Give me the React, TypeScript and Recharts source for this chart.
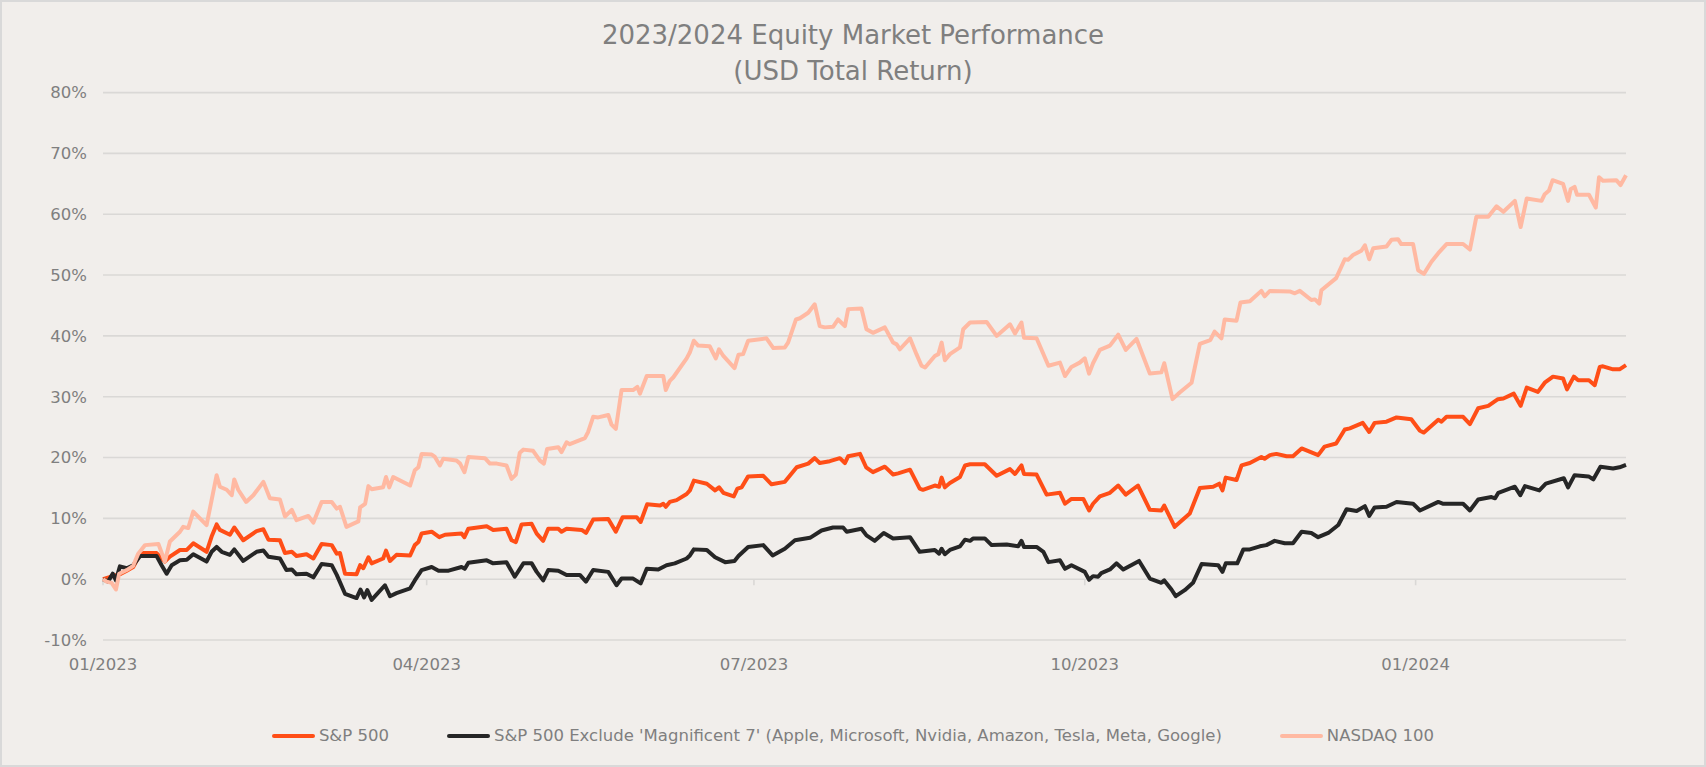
import React from "react";
import { LineChart, Line, XAxis, YAxis, CartesianGrid, ReferenceLine } from "recharts";

// x = days since 01/01/2023, y = total return in %
const tickDays = [0, 90, 181, 273, 365];
const tickLabels = ["01/2023", "04/2023", "07/2023", "10/2023", "01/2024"];
const yTicks = [-10, 0, 10, 20, 30, 40, 50, 60, 70, 80];

const spx: [number, number][] = [
    [0, 0], [3.8, 0.7], [5, 0.9], [6.6, 1.4], [8.4, 2], [10.3, 4.1], [11.2, 4.3], [14.9, 4.3], [17.2, 2.9], [18.6, 3.7],
    [21.4, 4.8], [23.3, 4.8], [25.1, 5.9], [28.8, 4.5], [30.2, 7], [31.6, 9], [32.5, 8.1], [35.3, 7.3], [36.5, 8.5], [39, 6.4],
    [42.7, 7.9], [44.6, 8.2], [46, 6.5], [49.2, 6.4], [50.6, 4.3], [52.5, 4.5], [53.8, 3.8], [56.6, 4.1], [58.5, 3.4], [60.8, 5.8],
    [63.6, 5.6], [65, 4.2], [65.9, 4.3], [67.3, 0.9], [70.5, 0.8], [71.5, 2.3], [72.4, 1.8], [73.8, 3.6], [74.7, 2.6], [77.9, 3.4],
    [78.7, 4.7], [79.8, 3], [81.6, 4], [85.4, 3.9], [86.7, 5.6], [87.7, 6.1], [88.6, 7.5], [91.4, 7.8], [93.5, 6.9], [95.1, 7.3],
    [99.7, 7.5], [100.5, 6.9], [101.6, 8.3], [106.7, 8.7], [108.5, 8.1], [112.2, 8.3], [113.6, 6.4], [114.8, 6.1], [116.4, 9], [119.2, 9.1],
    [120.6, 7.5], [122.4, 6.3], [123.8, 8.3], [126.6, 8.3], [127.5, 7.8], [128.9, 8.3], [133.1, 8.1], [134.3, 7.6], [136.3, 9.8], [140.5, 9.9],
    [142.6, 7.8], [144.5, 10.2], [148.4, 10.2], [149.5, 9.4], [151.3, 12.3], [154.9, 12.1], [155.8, 12.4], [156.5, 11.9], [157.6, 12.7], [159.5, 13],
    [162.3, 14], [163.2, 14.6], [164.3, 16.2], [167.9, 15.7], [170.2, 14.6], [171.3, 15.1], [172.5, 14.2], [175.4, 13.6], [176.4, 14.9], [177.6, 15.1],
    [179.4, 16.9], [183.6, 17], [185.9, 15.6], [189.6, 16], [192.9, 18.4], [196.1, 19], [197.9, 19.9], [199.3, 19.1], [202.1, 19.4], [204.9, 19.9],
    [206.3, 19.1], [207.2, 20.2], [210.5, 20.6], [212.2, 18.4], [214.1, 17.6], [217.4, 18.5], [219.7, 17.2], [221.1, 17.4], [224.4, 18], [227.1, 14.9],
    [228, 14.7], [231.3, 15.4], [232.5, 15.2], [233.2, 16.7], [234.1, 15.1], [235.5, 15.8], [238.3, 16.8], [239.7, 18.7], [241.1, 18.9], [245.2, 18.9],
    [248.5, 17], [252.2, 18.1], [253.6, 17.3], [255.4, 18.7], [256.1, 17.3], [259.6, 17.2], [262.4, 13.9], [266.1, 14.2], [267.5, 12.4], [269.3, 13.2],
    [272.6, 13.2], [274.2, 11.3], [275.3, 12.4], [277.2, 13.6], [280, 14.2], [282.3, 15.4], [284.4, 13.9], [287.8, 15.4], [291.1, 11.4], [294.3, 11.3],
    [295.1, 12.1], [298, 8.6], [302.2, 10.8], [305, 15], [308.7, 15.2], [310.4, 15.7], [311.3, 14.6], [312.2, 16.7], [315.2, 16.3], [316.6, 18.7],
    [318.9, 19.1], [322.1, 20.1], [323, 19.8], [324.5, 20.4], [326.3, 20.6], [329.1, 20.2], [330.9, 20.2], [333.3, 21.5], [337.9, 20.4], [339.7, 21.8],
    [342.9, 22.3], [345.3, 24.6], [346.7, 24.8], [350.3, 25.7], [352.1, 24.2], [353.6, 25.7], [356.9, 25.9], [359.7, 26.6], [363.8, 26.3], [366.2, 24.4],
    [367.3, 24.1], [371.3, 26.2], [372.2, 25.9], [373.6, 26.7], [378.2, 26.7], [380.1, 25.5], [382.4, 28.1], [385.2, 28.5], [387.9, 29.6], [389.4, 29.7],
    [392.3, 30.5], [394.2, 28.5], [395.9, 31.5], [399, 30.8], [400.9, 32.3], [403.2, 33.3], [406, 33], [407.1, 31.2], [409, 33.3], [410.2, 32.7],
    [413.2, 32.7], [414.8, 31.9], [416.2, 34.9], [417.1, 35], [419.9, 34.5], [421.7, 34.5], [423.5, 35.2],
];

const exMag7: [number, number][] = [
    [0, 0], [1.4, -0.4], [2.7, 0.9], [3.6, -0.2], [4.7, 2.1], [6.6, 1.8], [8.4, 2.3], [10.3, 3.8], [14.9, 3.8], [16.3, 2.3],
    [17.7, 0.9], [19.1, 2.3], [21.4, 3.1], [23.3, 3.2], [25.1, 4.1], [28.8, 2.9], [30.2, 4.5], [31.6, 5.3], [33, 4.5], [35.3, 4],
    [36.5, 4.9], [39, 3], [42.7, 4.5], [44.6, 4.7], [46, 3.7], [49.2, 3.4], [51, 1.5], [52.5, 1.6], [53.8, 0.8], [56.6, 0.9],
    [58.5, 0.3], [60.8, 2.5], [63.6, 2.3], [65, 0.7], [67.3, -2.4], [70.5, -3.1], [71.6, -1.7], [72.6, -3], [73.5, -1.8], [74.7, -3.4],
    [78.4, -1], [79.8, -2.8], [81.6, -2.3], [85.4, -1.5], [86.7, -0.2], [88.6, 1.5], [91.4, 2], [93.3, 1.4], [96.1, 1.4], [99.7, 2],
    [100.6, 1.7], [101.6, 2.7], [106.7, 3.1], [108.5, 2.6], [112.2, 2.8], [114.5, 0.4], [116.9, 2.6], [119.2, 2.6], [120.6, 1.2], [122.4, -0.2],
    [123.8, 1.5], [126.6, 1.4], [128.9, 0.7], [132.6, 0.7], [134.3, -0.4], [136.3, 1.5], [140.5, 1.2], [142.8, -1], [144.2, 0.1], [147.4, 0.1],
    [149.5, -0.7], [151.2, 1.7], [154.4, 1.6], [156.7, 2.3], [159, 2.6], [162.3, 3.4], [163.2, 3.9], [164.3, 4.9], [167.9, 4.8], [170.2, 3.6],
    [173, 2.8], [175.6, 3], [176.7, 3.8], [179.4, 5.3], [183.6, 5.6], [186.2, 3.9], [189.6, 5], [192.4, 6.4], [196.6, 6.8], [199.8, 8],
    [203, 8.5], [205.8, 8.5], [206.8, 7.8], [210.9, 8.3], [212.3, 7.2], [214.6, 6.3], [217.1, 7.6], [219.7, 6.7], [224.4, 6.9], [227.1, 4.5],
    [231.3, 4.8], [232.5, 4.2], [233.2, 5], [234.1, 4.1], [235.5, 4.8], [238.3, 5.4], [239.7, 6.5], [241.1, 6.3], [242, 6.7], [245.2, 6.7],
    [247.1, 5.6], [251.3, 5.7], [254.5, 5.4], [255.4, 6.3], [256.1, 5.3], [259.6, 5.3], [261.5, 4.5], [262.9, 2.8], [266.1, 3.1], [267.5, 1.7],
    [269.3, 2.3], [273, 1.2], [274.2, -0.1], [275.3, 0.5], [276.7, 0.4], [277.6, 1], [280, 1.6], [281.8, 2.6], [283.7, 1.6], [288.1, 3],
    [291.1, 0.1], [294.3, -0.6], [295.1, -0.2], [297.1, -1.7], [298.3, -2.8], [300.8, -1.8], [303.1, -0.6], [305.5, 2.5], [310.1, 2.3], [311.3, 1.2],
    [312.2, 2.6], [315.4, 2.6], [317.1, 4.9], [318.9, 4.9], [321.7, 5.4], [323.5, 5.6], [325.8, 6.3], [328.6, 5.9], [330.9, 5.9], [333.3, 7.8],
    [336, 7.6], [337.9, 6.9], [340.7, 7.6], [343.5, 8.9], [345.8, 11.5], [348.6, 11.2], [350.9, 12], [352.1, 10.4], [353.6, 11.8], [356.9, 11.9],
    [359.7, 12.7], [364.3, 12.4], [366.2, 11.3], [371.3, 12.7], [372.7, 12.4], [378.2, 12.4], [380.1, 11.3], [382.4, 13.1], [386.1, 13.5], [387.1, 13.3],
    [388, 14.2], [392.6, 15.2], [394.1, 13.8], [395.4, 15.3], [399.4, 14.6], [401.2, 15.7], [406.2, 16.6], [407.4, 15.1], [409.2, 17.1], [413.1, 16.9],
    [414.4, 16.4], [416.4, 18.5], [419.9, 18.2], [421.7, 18.4], [423.5, 18.8],
];

const ndx: [number, number][] = [
    [0, 0], [1, -0.4], [2.4, -0.6], [3.6, -1.7], [4.5, 0.9], [6.6, 1.5], [8.4, 2.2], [9.8, 4.2], [11.7, 5.6], [15.4, 5.8],
    [17.2, 2.9], [18.6, 6.2], [21.4, 7.8], [22.3, 8.6], [23.7, 8.4], [25.1, 11.1], [28.8, 8.9], [30.2, 13], [31.6, 17.1], [32.5, 15.2],
    [34.4, 14.7], [35.8, 13.8], [36.5, 16.4], [37.6, 14.7], [39.8, 12.7], [41.8, 13.8], [44.6, 16], [46.4, 13.3], [49.2, 13.1], [50.6, 10.3],
    [52.5, 11.4], [53.8, 9.7], [57.1, 10.4], [58.5, 9.3], [60.8, 12.7], [63.6, 12.7], [65, 11.6], [65.9, 11.9], [67.7, 8.6], [71, 9.5],
    [71.5, 11.8], [72.9, 12.4], [73.8, 15.3], [74.7, 14.8], [77.9, 15.1], [78.7, 16.8], [79.6, 15.1], [80.7, 16.8], [85.4, 15.4], [86.7, 17.9],
    [87.7, 18.4], [88.6, 20.6], [91.4, 20.5], [92.3, 20.1], [93.7, 18.7], [94.6, 19.8], [98.3, 19.5], [99.3, 19], [100.5, 17.6], [101.6, 20.1],
    [106.2, 19.9], [107.6, 19], [109.5, 19], [112.2, 18.7], [113.6, 16.5], [114.8, 17.2], [115.9, 20.8], [116.9, 21.3], [119.6, 21.1], [121.5, 19.5],
    [122.6, 19], [123.5, 21.4], [126.6, 21.7], [127.5, 20.9], [128.9, 22.5], [129.8, 22.2], [134, 23.2], [134.9, 24.2], [136.3, 26.7], [137.7, 26.6],
    [140.5, 27], [141.4, 25.4], [142.6, 24.7], [144.2, 31.1], [147.4, 31.1], [148.6, 31.6], [149.3, 30.5], [151.2, 33.4], [155.8, 33.4], [156.5, 31.1],
    [157.6, 32.6], [158.6, 33.2], [162.3, 36.3], [163.2, 37.3], [164.3, 39.2], [165.5, 38.4], [168.7, 38.3], [170.4, 36.3], [171.3, 37.8], [172.5, 36.7],
    [175.6, 34.7], [176.7, 36.9], [178, 37], [179.4, 39.2], [184.5, 39.6], [186.4, 38], [189.6, 38.1], [190.5, 38.9], [192.7, 42.7], [193.8, 42.9],
    [196.1, 43.8], [197.9, 45.2], [199.3, 41.6], [200.7, 41.4], [203, 41.5], [204.4, 42.7], [206.3, 41.6], [207.2, 44.4], [210.9, 44.5], [212.3, 41.1],
    [214.1, 40.5], [217.4, 41.4], [219.7, 38.9], [220.7, 38.6], [221.6, 37.8], [224.4, 39.6], [226.2, 37], [227.6, 35.1], [228.6, 34.8], [231.3, 36.7],
    [232.3, 37], [233.2, 38.9], [234.1, 36], [235.5, 37], [238.3, 38.1], [239.2, 41.1], [241.1, 42.2], [245.7, 42.3], [248.5, 40], [252.2, 41.9],
    [253.6, 40.4], [255.4, 42.2], [256.1, 39.7], [259.6, 39.6], [262.9, 35.1], [266.1, 35.6], [267.5, 33.4], [269.3, 34.9], [271.6, 35.6], [273, 36.3],
    [274.2, 33.8], [275.3, 35.5], [277.2, 37.7], [280, 38.4], [282.3, 40.2], [284.4, 37.7], [287.4, 39.5], [291.1, 33.8], [294.3, 34], [295.1, 35.5],
    [297.4, 29.6], [299.4, 30.7], [302.7, 32.3], [305, 38.7], [307.9, 39.3], [309.1, 40.7], [311, 39.6], [311.9, 42.7], [315.2, 42.5], [316.3, 45.5],
    [318.9, 45.7], [322.1, 47.4], [323, 46.5], [324.5, 47.4], [330, 47.3], [331.4, 47], [332.8, 47.4], [336, 45.9], [337, 46], [338.2, 45.3],
    [338.8, 47.5], [342.9, 49.5], [345.3, 52.6], [346.2, 52.5], [347.6, 53.3], [349.9, 54], [350.9, 54.9], [352.1, 52.6], [353.2, 54.4], [356.9, 54.7],
    [358.3, 55.8], [360.1, 55.9], [361, 55.1], [364.3, 55.1], [365.7, 50.8], [367.3, 50.2], [369.4, 52.2], [371.3, 53.6], [373.6, 55.1], [378.2, 55.1],
    [380.1, 54.2], [381.9, 59.6], [385.2, 59.6], [387.5, 61.3], [389.4, 60.4], [392.6, 62.2], [394.2, 57.9], [395.9, 62.6], [400, 62.2], [400.9, 63.3],
    [402.1, 63.9], [403.1, 65.6], [406, 65], [407.4, 62.2], [408.1, 64.1], [409.2, 64.5], [409.9, 63.2], [413.2, 63.2], [415.1, 61.1], [416, 66.1],
    [417.1, 65.5], [420.8, 65.6], [422, 64.8], [423.5, 66.4],
];

const series = [
    { key: "spx", name: "S&P 500", color: "#FF4E17", points: spx },
    { key: "ex", name: "S&P 500 Exclude 'Magnificent 7' (Apple, Microsoft, Nvidia, Amazon, Tesla, Meta, Google)", color: "#262626", points: exMag7 },
    { key: "ndx", name: "NASDAQ 100", color: "#FFB9A2", points: ndx },
];

// merge every series onto one table keyed by day; gaps are bridged with connectNulls
function buildRows() {
    const byDay = new Map<number, any>();
    series.forEach((s) => {
        s.points.forEach(([d, v]) => {
            const row = byDay.get(d) || { d };
            row[s.key] = v;
            byDay.set(d, row);
        });
    });
    return Array.from(byDay.values()).sort((a, b) => a.d - b.d);
}

const FONT = "'DejaVu Sans', sans-serif";
const TEXT = "#7F7F7F";
const GRID = "#DAD8D6";

export default function App() {
    const rows = buildRows();
    return (
        <div style={{ position: "absolute", left: 0, top: 0, width: 1706, height: 767, background: "#F1EEEB", fontFamily: FONT }}>
            <div style={{ position: "absolute", left: 0, top: 17, width: 1706, textAlign: "center", color: TEXT, fontSize: 26, lineHeight: "36px" }}>
                <div>2023/2024 Equity Market Performance</div>
                <div>(USD Total Return)</div>
            </div>
            <LineChart width={1706} height={767} data={rows} margin={{ top: 92.6, right: 80, left: 0, bottom: 97 }}>
                <CartesianGrid vertical={false} stroke={GRID} strokeWidth={1.6} />
                <XAxis
                    dataKey="d"
                    type="number"
                    domain={[0, 423.5]}
                    ticks={tickDays}
                    tickFormatter={(d) => tickLabels[tickDays.indexOf(d)]}
                    axisLine={false}
                    tickLine={false}
                    tickSize={0}
                    tickMargin={18}
                    height={30}
                    interval={0}
                    tick={{ fill: TEXT, fontSize: 16.5, fontFamily: FONT }}
                />
                <YAxis
                    type="number"
                    domain={[-10, 80]}
                    ticks={yTicks}
                    tickFormatter={(v) => `${v}%`}
                    axisLine={false}
                    tickLine={false}
                    tickSize={0}
                    tickMargin={16}
                    width={103}
                    interval={0}
                    tick={{ fill: TEXT, fontSize: 16.5, fontFamily: FONT }}
                />
                {tickDays.map((d) => (
                    <ReferenceLine key={d} segment={[{ x: d, y: 0 }, { x: d, y: -1 }]} stroke={GRID} strokeWidth={1.6} />
                ))}
                {series.map((s) => (
                    <Line
                        key={s.key}
                        dataKey={s.key}
                        type="linear"
                        stroke={s.color}
                        strokeWidth={4}
                        strokeLinejoin="round"
                        dot={false}
                        connectNulls
                        isAnimationActive={false}
                    />
                ))}
            </LineChart>
            <div style={{ position: "absolute", left: 0, top: 726, width: 1706, display: "flex", justifyContent: "center", alignItems: "center", gap: 58, color: TEXT, fontSize: 16.5 }}>
                {series.map((s) => (
                    <div key={s.key} style={{ display: "flex", alignItems: "center", gap: 4, whiteSpace: "nowrap" }}>
                        <span style={{ display: "inline-block", width: 43, height: 4, borderRadius: 2, background: s.color }} />
                        <span>{s.name}</span>
                    </div>
                ))}
            </div>
            <div style={{ position: "absolute", left: 0, top: 0, width: 1706, height: 767, boxSizing: "border-box", border: "2px solid #D9D9D9", pointerEvents: "none" }} />
        </div>
    );
}
